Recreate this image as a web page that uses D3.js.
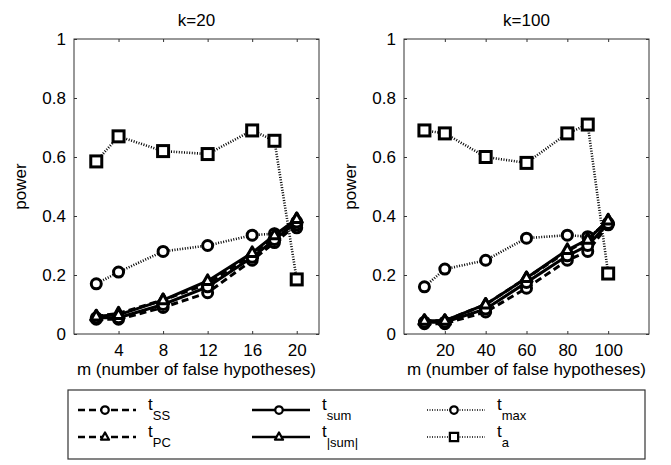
<!DOCTYPE html>
<html>
<head>
<meta charset="utf-8">
<script src="https://cdn.jsdelivr.net/npm/d3@7"></script>
<style>
  body { margin: 0; background: #fff; }
  svg text { font-family: "Liberation Sans", Arial, sans-serif; fill: #000; }
</style>
</head>
<body>
<div id="chart"></div>
<script>
// x values (number of false hypotheses)
const mK20 = [2, 4, 8, 12, 16, 18, 20];
const mK100 = [10, 20, 40, 60, 80, 90, 100];

// power, k=20
const tssK20 = [0.05, 0.05, 0.09, 0.14, 0.25, 0.31, 0.37];
const tpcK20 = [0.06, 0.07, 0.115, 0.17, 0.27, 0.33, 0.39];
const tsumK20 = [0.055, 0.055, 0.10, 0.16, 0.26, 0.32, 0.38];
const tabsK20 = [0.06, 0.065, 0.115, 0.18, 0.275, 0.335, 0.39];
const tmaxK20 = [0.17, 0.21, 0.28, 0.30, 0.335, 0.34, 0.36];
const taK20 = [0.585, 0.67, 0.62, 0.61, 0.69, 0.655, 0.185];

// power, k=100
const tssK100 = [0.035, 0.035, 0.075, 0.155, 0.25, 0.28, 0.37];
const tpcK100 = [0.045, 0.045, 0.10, 0.19, 0.28, 0.32, 0.385];
const tsumK100 = [0.04, 0.04, 0.085, 0.175, 0.265, 0.30, 0.375];
const tabsK100 = [0.045, 0.045, 0.10, 0.19, 0.285, 0.32, 0.385];
const tmaxK100 = [0.16, 0.22, 0.25, 0.325, 0.335, 0.33, 0.375];
const taK100 = [0.69, 0.68, 0.60, 0.58, 0.68, 0.71, 0.205];

const yTicks = [0, 0.2, 0.4, 0.6, 0.8, 1];
const xTicksK20 = [4, 8, 12, 16, 20];
const xTicksK100 = [20, 40, 60, 80, 100];

// series styles
const styles = {
    ss: { dash: "7,4", width: 3, dotted: false, marker: "circle", sub: "SS" },
    pc: { dash: "7,4", width: 3, dotted: false, marker: "triangle", sub: "PC" },
    sum: { dash: null, width: 3, dotted: false, marker: "circle", sub: "sum" },
    abs: { dash: null, width: 3, dotted: false, marker: "triangle", sub: "|sum|" },
    max: { dash: "1,1.6", width: 2.6, dotted: true, marker: "circle", sub: "max" },
    a: { dash: "1,1.6", width: 2.6, dotted: true, marker: "square", sub: "a" }
};

const width = 671, height = 465;
const svg = d3.select("#chart").append("svg")
    .attr("width", width)
    .attr("height", height);

const y = d3.scaleLinear().domain([0, 1]).range([334, 39]);

function drawMarker(g, type, cx, cy, s) {
    if (type === "circle") {
        g.append("circle").attr("cx", cx).attr("cy", cy).attr("r", 5 * s)
            .attr("fill", "#fff").attr("stroke", "#000").attr("stroke-width", 3 * s);
    } else if (type === "square") {
        g.append("rect").attr("x", cx - 5.5 * s).attr("y", cy - 5.5 * s)
            .attr("width", 11 * s).attr("height", 11 * s)
            .attr("fill", "#fff").attr("stroke", "#000").attr("stroke-width", 3 * s);
    } else {
        const r = 6 * s;
        g.append("path")
            .attr("d", d3.line()([[cx, cy - r], [cx + r * 0.9, cy + r * 0.6], [cx - r * 0.9, cy + r * 0.6]]) + "Z")
            .attr("fill", "#fff").attr("stroke", "#000").attr("stroke-width", 3 * s)
            .attr("stroke-linejoin", "round");
    }
}

function drawPanel(opts) {
    const x = d3.scaleLinear().domain(opts.domain).range([opts.left, opts.left + 245]);
    const g = svg.append("g");

    // series
    const order = ["a", "max", "ss", "pc", "sum", "abs"];
    const line = d3.line().x(d => x(d[0])).y(d => y(d[1]));
    order.forEach(key => {
        const st = styles[key];
        const pts = opts.m.map((m, i) => [m, opts.series[key][i]]);
        g.append("path")
            .attr("d", line(pts))
            .attr("fill", "none")
            .attr("stroke", "#000")
            .attr("stroke-width", st.width)
            .attr("stroke-dasharray", st.dash);
        pts.forEach(p => drawMarker(g, st.marker, x(p[0]), y(p[1]), 1));
    });

    // box
    const [x0, x1] = x.range();
    const [y0, y1] = y.range();
    g.append("rect").attr("x", x0).attr("y", y1).attr("width", x1 - x0).attr("height", y0 - y1)
        .attr("fill", "none").attr("stroke", "#333").attr("stroke-width", 1);

    // inward ticks, all four sides
    const xAxisB = d3.axisBottom(x).tickValues(opts.xticks).tickSizeInner(-3).tickSizeOuter(0).tickPadding(10);
    const xAxisT = d3.axisTop(x).tickValues(opts.xticks).tickSizeInner(-3).tickSizeOuter(0).tickFormat("");
    const yAxisL = d3.axisLeft(y).tickValues(yTicks).tickSizeInner(-3).tickSizeOuter(0).tickPadding(8)
        .tickFormat(d => d === 0 || d === 1 ? d3.format("d")(d) : d3.format(".1f")(d));
    const yAxisR = d3.axisRight(y).tickValues(yTicks).tickSizeInner(-3).tickSizeOuter(0).tickFormat("");

    [[xAxisB, `translate(0,${y0})`], [xAxisT, `translate(0,${y1})`],
     [yAxisL, `translate(${x0},0)`], [yAxisR, `translate(${x1},0)`]].forEach(([ax, tr]) => {
        const a = g.append("g").attr("transform", tr).call(ax);
        a.select(".domain").remove();
        a.selectAll("line").attr("stroke", "#333");
        a.selectAll("text").style("font-size", "17px").attr("fill", "#000");
    });

    // title and labels
    g.append("text").attr("x", (x0 + x1) / 2).attr("y", 26).attr("text-anchor", "middle")
        .style("font-size", "17px").text(opts.title);
    g.append("text").attr("x", (x0 + x1) / 2).attr("y", 375).attr("text-anchor", "middle")
        .style("font-size", "17px").text("m (number of false hypotheses)");
    g.append("text").attr("transform", `translate(${x0 - 48},${(y0 + y1) / 2}) rotate(-90)`)
        .attr("text-anchor", "middle").style("font-size", "17px").text("power");
}

drawPanel({
    left: 74, domain: [0, 22], m: mK20, xticks: xTicksK20, title: "k=20",
    series: { ss: tssK20, pc: tpcK20, sum: tsumK20, abs: tabsK20, max: tmaxK20, a: taK20 }
});
drawPanel({
    left: 404, domain: [0, 120], m: mK100, xticks: xTicksK100, title: "k=100",
    series: { ss: tssK100, pc: tpcK100, sum: tsumK100, abs: tabsK100, max: tmaxK100, a: taK100 }
});

// legend
const leg = svg.append("g");
leg.append("rect").attr("x", 68).attr("y", 390).attr("width", 577).attr("height", 69)
    .attr("fill", "#fff").attr("stroke", "#333").attr("stroke-width", 1.2);

const legendItems = [
    { key: "ss", col: 0, row: 0 }, { key: "pc", col: 0, row: 1 },
    { key: "sum", col: 1, row: 0 }, { key: "abs", col: 1, row: 1 },
    { key: "max", col: 2, row: 0 }, { key: "a", col: 2, row: 1 }
];
const colX = [78, 252, 427];
const rowY = [410, 437];
legendItems.forEach(it => {
    const st = styles[it.key];
    const lx = colX[it.col], ly = rowY[it.row];
    leg.append("path")
        .attr("d", d3.line()([[lx, ly], [lx + 58, ly]]))
        .attr("stroke", "#000")
        .attr("stroke-width", st.dotted ? 1.3 : 2.5)
        .attr("stroke-dasharray", st.dotted ? "1,1.5" : st.dash);
    drawMarker(leg, st.marker, lx + 27, ly, 0.75);
    const t = leg.append("text").attr("x", lx + 70).attr("y", ly).style("font-size", "17px");
    t.append("tspan").text("t");
    t.append("tspan").attr("dy", 10).style("font-size", "13px").text(st.sub);
});
</script>
</body>
</html>
